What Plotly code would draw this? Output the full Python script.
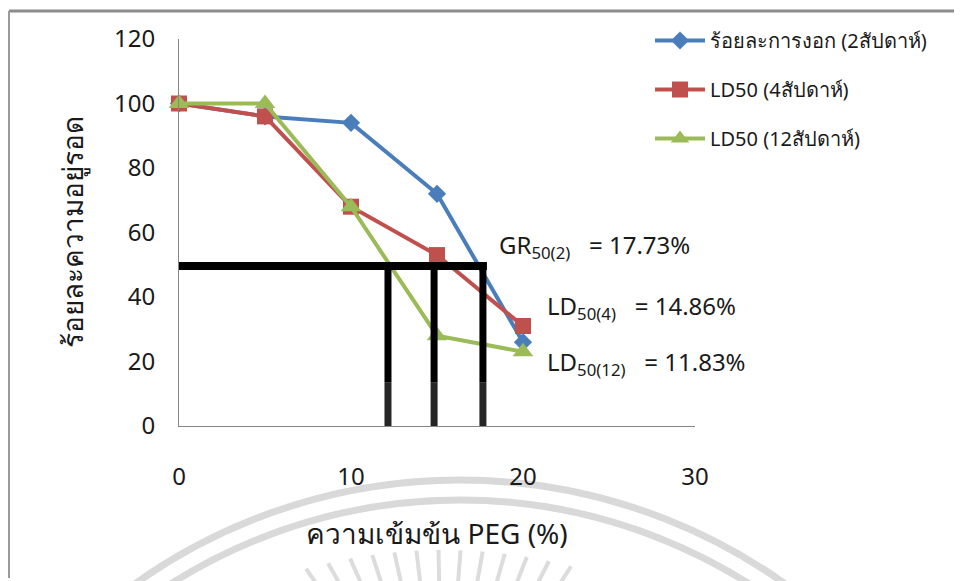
import numpy as np
import plotly.graph_objects as go

# ---- data ----
peg = [0, 5, 10, 15, 20]
germ_2wk = [100, 96, 94, 72, 26]
ld_4wk = [100, 96, 68, 53, 31]
ld_12wk = [100, 100, 68, 28, 23]

names = ["ร้อยละการงอก (2สัปดาห์)", "LD50 (4สัปดาห์)", "LD50 (12สัปดาห์)"]
cut_y = 49.6
cut_x = [12.15, 14.83, 17.67]
NB = "\u00a0"
cut_labels = [f"LD<sub>50(12)</sub>{NB*3}= 11.83%",
              f"LD<sub>50(4)</sub>{NB*3}= 14.86%",
              f"GR<sub>50(2)</sub>{NB*3}= 17.73%"]

FONT = "Tahoma, 'Noto Sans', 'DejaVu Sans', sans-serif"
TXT = "#1a1a1a"

OFF = 8                      # page body margin
W, H = 962 - OFF, 581 - OFF  # figure size
# plot area in screen pixels
L, R, T, B = 179, 695, 39, 426


def px_to_paper(px, py):
    return (px - L) / (R - L), (B - py) / (B - T)


fig = go.Figure()
styles = [
    dict(color="#4A7EBB", symbol="diamond", size=14),
    dict(color="#C0504D", symbol="square", size=16),
    dict(color="#9BBB59", symbol="triangle-up", size=18),
]
for i, (ys, st) in enumerate(zip([germ_2wk, ld_4wk, ld_12wk], styles)):
    fig.add_trace(go.Scatter(
        x=peg, y=ys, name=names[i], mode="lines+markers",
        line=dict(color=st["color"], width=4),
        marker=dict(symbol=st["symbol"], size=st["size"], color=st["color"]),
        cliponaxis=False, legendgroup=f"g{i}",
    ))

shapes = []
# watermark (background) circles and rays
cx, cy = 460, 1040
for r in (560, 540):
    x0, y0 = px_to_paper(cx - r, cy + r)
    x1, y1 = px_to_paper(cx + r, cy - r)
    shapes.append(dict(type="circle", xref="paper", yref="paper",
                       x0=x0, y0=y0, x1=x1, y1=y1,
                       line=dict(color="#d9d9d9", width=7), layer="below"))
rc = 443
for dx in np.linspace(-137, 128, 13):
    top_y = 550 + dx * dx / 1000.0
    a = np.deg2rad(dx / 137 * 35)
    ln = 45
    xa, ya = px_to_paper(rc + dx, top_y)
    xb, yb = px_to_paper(rc + dx - ln * np.sin(a), top_y + ln * np.cos(a))
    shapes.append(dict(type="line", xref="paper", yref="paper",
                       x0=xa, y0=ya, x1=xb, y1=yb,
                       line=dict(color="#dcdcdc", width=4), layer="below"))

# frame (top and left border of the chart area)
fx0, fy0 = px_to_paper(9, OFF + 3)
fx1, _ = px_to_paper(958, OFF + 3)
_, fy2 = px_to_paper(9, 578)
shapes.append(dict(type="line", xref="paper", yref="paper", x0=fx0, y0=fy0, x1=fx1, y1=fy0,
                   line=dict(color="#8c8c8c", width=3), layer="above"))
shapes.append(dict(type="line", xref="paper", yref="paper", x0=fx0, y0=fy0, x1=fx0, y1=fy2,
                   line=dict(color="#9a9a9a", width=2), layer="above"))

# LD50 guide lines
shapes.append(dict(type="line", xref="x", yref="y", x0=0, x1=max(cut_x) + 0.23,
                   y0=cut_y, y1=cut_y, line=dict(color="black", width=8)))
for xv in cut_x:
    shapes.append(dict(type="line", xref="x", yref="y", x0=xv, x1=xv,
                       y0=13.6, y1=cut_y + 1.2, line=dict(color="black", width=7)))
    shapes.append(dict(type="line", xref="x", yref="y", x0=xv, x1=xv,
                       y0=0, y1=13.6, line=dict(color="#262626", width=7)))

annotations = []
ann_pos = [(21.28, 19.4), (21.28, 36.8), (18.49, 55.7)]
for (ax, ay), txt in zip(ann_pos, cut_labels):
    annotations.append(dict(x=ax, y=ay, xref="x", yref="y", text=txt, showarrow=False,
                            xanchor="left", yanchor="middle",
                            font=dict(family=FONT, size=24, color=TXT)))

lx, ly = px_to_paper(650, 21)
fig.update_layout(
    width=W, height=H,
    margin=dict(l=L - OFF, r=W - (R - OFF), t=T - OFF, b=H - (B - OFF)),
    paper_bgcolor="white", plot_bgcolor="rgba(0,0,0,0)",
    font=dict(family=FONT, color=TXT),
    showlegend=True,
    legend=dict(x=lx, y=ly, xanchor="left", yanchor="top",
                font=dict(family=FONT, size=20, color=TXT),
                bgcolor="rgba(0,0,0,0)", tracegroupgap=20, itemwidth=50),
    shapes=shapes, annotations=annotations,
    xaxis=dict(range=[0, 30], dtick=10, showgrid=False, zeroline=False,
               showline=True, linecolor="#868686", linewidth=1,
               ticks="", ticklabelstandoff=29,
               tickfont=dict(family=FONT, size=24, color=TXT),
               title=dict(text="ความเข้มข้น PEG (%)", standoff=33,
                          font=dict(family=FONT, size=28, color=TXT))),
    yaxis=dict(range=[0, 120], dtick=20, showgrid=False, zeroline=False,
               showline=True, linecolor="#868686", linewidth=1,
               ticks="", ticklabelstandoff=18,
               tickfont=dict(family=FONT, size=24, color=TXT),
               title=dict(text="ร้อยละความอยู่รอด", standoff=22,
                          font=dict(family=FONT, size=28, color=TXT))),
)

fig.write_html("out.html")
